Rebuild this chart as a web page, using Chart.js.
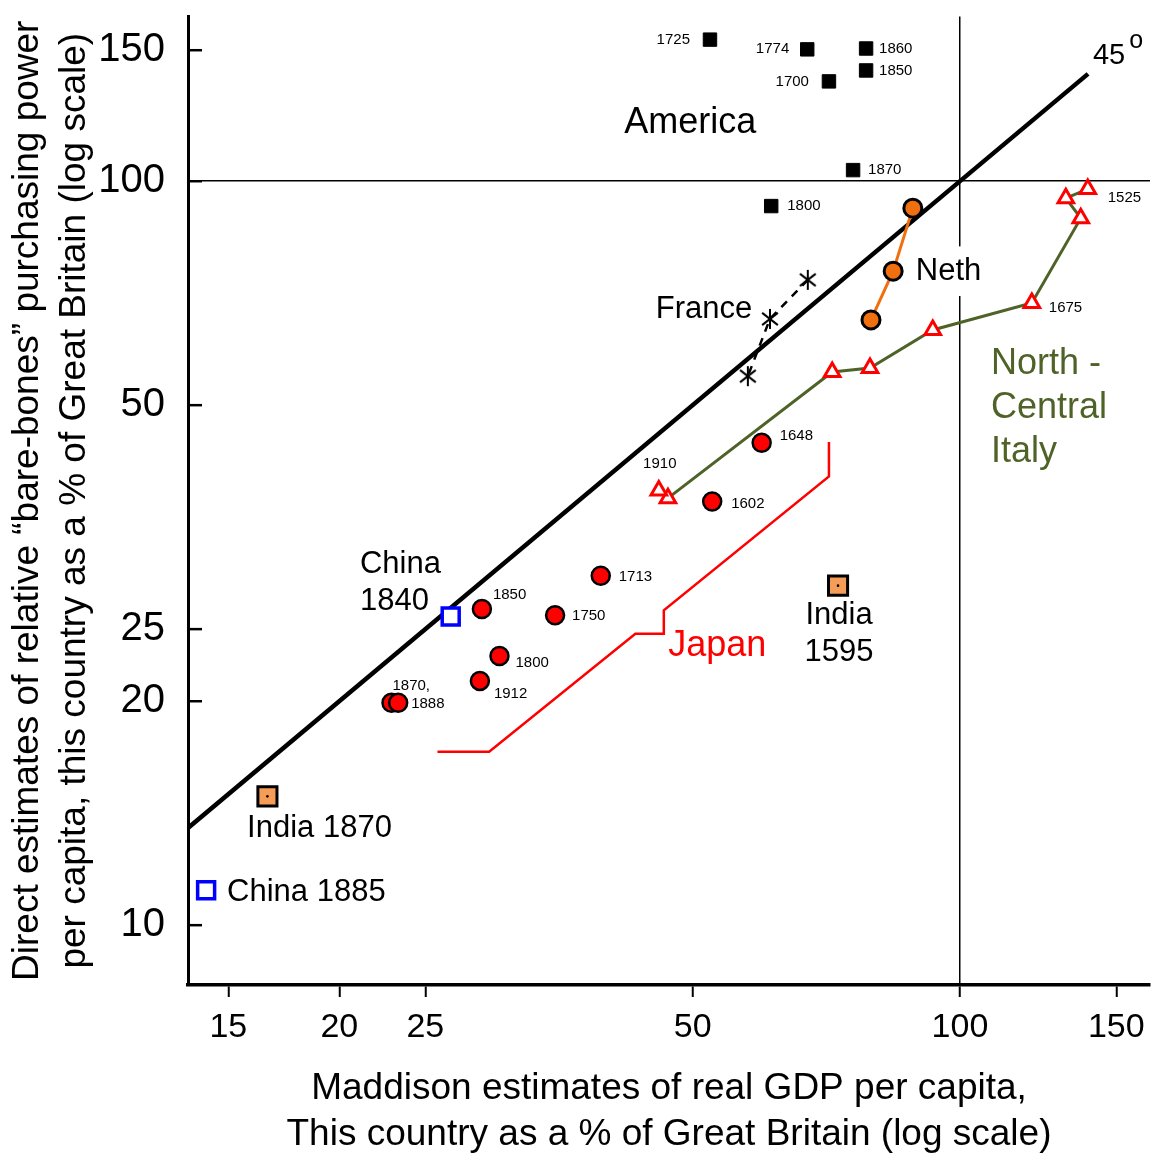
<!DOCTYPE html>
<html>
<head>
<meta charset="utf-8">
<script src="https://cdn.jsdelivr.net/npm/chart.js@4.4.1/dist/chart.umd.min.js"></script>
<style>
  html, body { margin: 0; padding: 0; background: #fff; }
  #wrap { width: 1167px; height: 1155px; }
</style>
</head>
<body>
<div id="wrap"><canvas id="grafica"></canvas></div>
<script>
// axis ticks
const xTicks = [15, 20, 25, 50, 100, 150];
const yTicks = [10, 20, 25, 50, 100, 150];

// x = Maddison GDP per capita (% of GB), y = bare-bones purchasing power (% of GB)
const americaYears = ['1725', '1774', '1860', '1850', '1700', '1870', '1800'];
const americaX = [52.3, 67.3, 78.4, 78.4, 71.2, 75.8, 61.3];
const americaY = [155, 150.4, 150.8, 140.9, 136.2, 103.5, 92.6];

const nethX = [88.5, 84.1, 79.4];
const nethY = [92.0, 75.7, 65.1];

const franceX = [67.4, 61.1, 57.7];
const franceY = [73.7, 65.3, 54.7];

const italyYears = ['1525', '', '', '1675', '', '', '', '', '1910'];
const italyX = [139.3, 131.6, 136.8, 120.5, 93.2, 79.2, 71.8, 46.9, 45.8];
const italyY = [97.6, 94.9, 89.2, 68.6, 63.1, 56.1, 55.4, 37.5, 38.4];

const japanYears = ['1648', '1602', '1713', '1850', '1750', '1800', '1912', '1870,', '1888'];
const japanX = [59.8, 52.6, 39.4, 28.95, 35.0, 30.3, 28.8, 22.9, 23.3];
const japanY = [44.5, 37.1, 29.5, 26.6, 26.1, 23.0, 21.3, 19.9, 19.9];

const chinaYears = ['1840', '1885'];
const chinaX = [26.7, 14.16];
const chinaY = [26.0, 11.14];

const indiaYears = ['1595', '1870'];
const indiaX = [72.9, 16.6];
const indiaY = [28.6, 14.9];

// outline drawn around the Japan points
const japanBandX = [25.8, 29.5, 43.1, 46.4, 46.4, 71.2, 71.2];
const japanBandY = [17.1, 17.1, 24.65, 24.65, 26.5, 40.1, 44.6];

// 45 degree line (y = x)
const diagX = [13.5, 139.4];

const pts = (xs, ys) => xs.map((x, i) => ({ x: x, y: ys[i] }));

const FONT = "'Liberation Sans', Arial, Helvetica, sans-serif";
Chart.defaults.font.family = FONT;
Chart.defaults.color = '#000';

// where the small year labels sit relative to their point: [dx, dy, align]
const americaLabelPos = [[-20, 0, 'right'], [-18, 0, 'right'], [13, 0, 'left'], [13, 0, 'left'],
  [-20, 0, 'right'], [15, 0, 'left'], [16, 0, 'left']];
const japanLabelPos = [[18, -7, 'left'], [19, 2, 'left'], [18, 1, 'left'], [11, -14, 'left'],
  [17, 1, 'left'], [16, 7, 'left'], [14, 13, 'left'], [1, -17, 'left'], [13, 1, 'left']];
const italyLabelPos = [[20, 9, 'left'], null, null, [17, 5, 'left'], null, null, null, null, [1, -27, 'center']];

// big text notes, anchored in data units
const notes = [
  { text: ['America'], x: 49.7, y: 119.6, align: 'center', size: 36 },
  { text: ['France'], x: 51.5, y: 67.3, align: 'center', size: 31 },
  { text: ['Neth'], x: 89.2, y: 75.7, align: 'left', size: 31, box: true },
  { text: ['North -', 'Central', 'Italy'], x: 108.4, y: 56.8, align: 'left', size: 36, color: '#4f6228', lh: 44 },
  { text: ['China', '1840'], x: 21.1, y: 30.5, align: 'left', size: 31, lh: 37 },
  { text: ['Japan'], x: 53.3, y: 23.7, align: 'center', size: 36, color: '#ff0000' },
  { text: ['India', '1595'], x: 73.1, y: 26.1, align: 'center', size: 31, lh: 37 },
  { text: ['India 1870'], x: 19.0, y: 13.5, align: 'center', size: 31 },
  { text: ['China 1885'], x: 14.95, y: 11.07, align: 'left', size: 31 }
];

function asterisk() {
  const c = document.createElement('canvas');
  c.width = 24; c.height = 24;
  const g = c.getContext('2d');
  g.strokeStyle = '#000';
  g.lineWidth = 2;
  [90, 38, 142].forEach(a => {
    const r = 10, t = a * Math.PI / 180;
    g.beginPath();
    g.moveTo(12 - r * Math.cos(t), 12 - r * Math.sin(t));
    g.lineTo(12 + r * Math.cos(t), 12 + r * Math.sin(t));
    g.stroke();
  });
  return c;
}

const yearLabels = {
  id: 'yearLabels',
  afterDatasetsDraw(chart) {
    const ctx = chart.ctx;
    ctx.save();
    ctx.font = '15px ' + FONT;
    ctx.fillStyle = '#000';
    ctx.textBaseline = 'middle';
    chart.data.datasets.forEach((ds, di) => {
      if (!ds.years) return;
      const meta = chart.getDatasetMeta(di);
      ds.years.forEach((txt, i) => {
        const p = ds.labelPos[i];
        if (!txt || !p) return;
        const el = meta.data[i];
        ctx.textAlign = p[2];
        ctx.fillText(txt, el.x + p[0], el.y + p[1]);
      });
    });
    ctx.restore();
  }
};

const textNotes = {
  id: 'textNotes',
  beforeDatasetsDraw(chart) {
    const ctx = chart.ctx, xs = chart.scales.x, ys = chart.scales.y;
    // inner tick marks on the y axis
    ctx.save();
    ctx.strokeStyle = '#000';
    ctx.lineWidth = 2.5;
    yTicks.forEach(v => {
      const py = ys.getPixelForValue(v);
      ctx.beginPath();
      ctx.moveTo(chart.chartArea.left, py);
      ctx.lineTo(chart.chartArea.left + 14, py);
      ctx.stroke();
    });
    // white box behind boxed notes
    ctx.fillStyle = '#fff';
    notes.filter(n => n.box).forEach(n => {
      ctx.font = n.size + 'px ' + FONT;
      const w = ctx.measureText(n.text[0]).width;
      const px = xs.getPixelForValue(n.x), py = ys.getPixelForValue(n.y);
      ctx.fillRect(px - 3, py - n.size * 0.8, w + 6, n.size * 1.6);
    });
    ctx.restore();
  },
  afterDatasetsDraw(chart) {
    const ctx = chart.ctx, xs = chart.scales.x, ys = chart.scales.y;
    ctx.save();
    ctx.textBaseline = 'middle';
    notes.forEach(n => {
      ctx.font = n.size + 'px ' + FONT;
      ctx.fillStyle = n.color || '#000';
      ctx.textAlign = n.align;
      const px = xs.getPixelForValue(n.x), py = ys.getPixelForValue(n.y);
      n.text.forEach((t, i) => ctx.fillText(t, px, py + i * (n.lh || 0)));
    });
    // 45 degree label
    const lx = xs.getPixelForValue(141.2), ly = ys.getPixelForValue(147.2);
    ctx.textAlign = 'left';
    ctx.fillStyle = '#000';
    ctx.font = '29px ' + FONT;
    ctx.fillText('45', lx, ly);
    const w = ctx.measureText('45').width;
    ctx.font = '25px ' + FONT;
    ctx.fillText('o', lx + w + 4, ly - 15);
    ctx.restore();
  }
};

const ctx = document.getElementById('grafica').getContext('2d');
new Chart(ctx, {
  type: 'scatter',
  data: {
    datasets: [
      {
        label: '45 degree',
        data: pts(diagX, diagX),
        showLine: true,
        borderColor: '#000',
        borderWidth: 4.5,
        pointRadius: 0,
        order: 10
      },
      {
        label: 'Japan band',
        data: pts(japanBandX, japanBandY),
        showLine: true,
        borderColor: '#ff0000',
        borderWidth: 2.5,
        pointRadius: 0,
        order: 9
      },
      {
        label: 'France',
        data: pts(franceX, franceY),
        showLine: true,
        borderColor: '#000',
        borderWidth: 2.5,
        borderDash: [8, 7],
        pointStyle: asterisk(),
        pointRadius: 10,
        order: 5
      },
      {
        label: 'Neth',
        data: pts(nethX, nethY),
        showLine: true,
        borderColor: '#f0700f',
        borderWidth: 3,
        pointRadius: 9,
        pointBackgroundColor: '#f0700f',
        pointBorderColor: '#000',
        pointBorderWidth: 3,
        order: 4
      },
      {
        label: 'North-Central Italy',
        data: pts(italyX, italyY),
        years: italyYears,
        labelPos: italyLabelPos,
        showLine: true,
        borderColor: '#4f6228',
        borderWidth: 3,
        pointStyle: 'triangle',
        pointRadius: 9,
        pointBackgroundColor: '#fff',
        pointBorderColor: '#ff0000',
        pointBorderWidth: 3,
        order: 3
      },
      {
        label: 'Japan',
        data: pts(japanX, japanY),
        years: japanYears,
        labelPos: japanLabelPos,
        pointRadius: 9,
        pointBackgroundColor: '#ff0000',
        pointBorderColor: '#000',
        pointBorderWidth: 2.5,
        order: 2
      },
      {
        label: 'America',
        data: pts(americaX, americaY),
        years: americaYears,
        labelPos: americaLabelPos,
        pointStyle: 'rect',
        pointRadius: 9.5,
        pointBackgroundColor: '#000',
        pointBorderColor: '#000',
        pointBorderWidth: 1,
        order: 2
      },
      {
        label: 'China',
        data: pts(chinaX, chinaY),
        pointStyle: 'rect',
        pointRadius: 12,
        pointBackgroundColor: '#fff',
        pointBorderColor: '#0000ff',
        pointBorderWidth: 3.5,
        order: 1
      },
      {
        label: 'India',
        data: pts(indiaX, indiaY),
        pointStyle: 'rect',
        pointRadius: 13.5,
        pointBackgroundColor: '#f59d56',
        pointBorderColor: '#000',
        pointBorderWidth: 3,
        order: 1
      },
      {
        label: 'India dot',
        data: pts(indiaX, indiaY),
        pointRadius: 1.3,
        pointBackgroundColor: '#000',
        pointBorderWidth: 0,
        order: 0
      }
    ]
  },
  options: {
    responsive: true,
    maintainAspectRatio: false,
    animation: false,
    devicePixelRatio: 1,
    layout: { padding: { left: 0, right: 17, top: 15, bottom: 0 } },
    plugins: {
      legend: { display: false },
      tooltip: { enabled: false }
    },
    scales: {
      x: {
        type: 'logarithmic',
        position: 'bottom',
        min: 13.51,
        max: 163.7,
        afterBuildTicks: s => { s.ticks = xTicks.map(v => ({ value: v })); },
        afterFit: s => { s.height = 170; s.paddingLeft = 0; s.paddingRight = 0; },
        ticks: {
          autoSkip: false,
          maxRotation: 0,
          padding: 10,
          font: { size: 34 },
          color: '#000',
          callback: v => String(v)
        },
        grid: {
          color: c => (c.tick && c.tick.value === 100 ? '#000' : 'rgba(0,0,0,0)'),
          lineWidth: 1.5,
          tickColor: '#000',
          tickWidth: 2,
          tickLength: 12
        },
        border: { color: '#000', width: 3.5 },
        title: {
          display: true,
          text: ['Maddison estimates of real GDP per capita,', 'This country as a % of Great Britain (log scale)'],
          font: { size: 37, lineHeight: 1.22 },
          color: '#000',
          padding: { top: 0, bottom: -2 }
        }
      },
      y: {
        type: 'logarithmic',
        position: 'left',
        min: 8.31,
        max: 166.5,
        afterBuildTicks: s => { s.ticks = yTicks.map(v => ({ value: v })); },
        afterFit: s => { s.width = 188; s.paddingTop = 0; s.paddingBottom = 0; },
        ticks: {
          autoSkip: false,
          padding: 23,
          font: { size: 40 },
          color: '#000',
          callback: v => String(v)
        },
        grid: {
          color: c => (c.tick && c.tick.value === 100 ? '#000' : 'rgba(0,0,0,0)'),
          lineWidth: 1.5,
          drawTicks: false
        },
        border: { color: '#000', width: 3 },
        title: {
          display: true,
          text: ['Direct estimates of relative \u201cbare-bones\u201d purchasing power', 'per capita, this country as a % of Great Britain (log scale)'],
          font: { size: 37, lineHeight: 1.27 },
          color: '#000',
          padding: { top: 4, bottom: 0 }
        }
      }
    }
  },
  plugins: [textNotes, yearLabels]
});
</script>
</body>
</html>
